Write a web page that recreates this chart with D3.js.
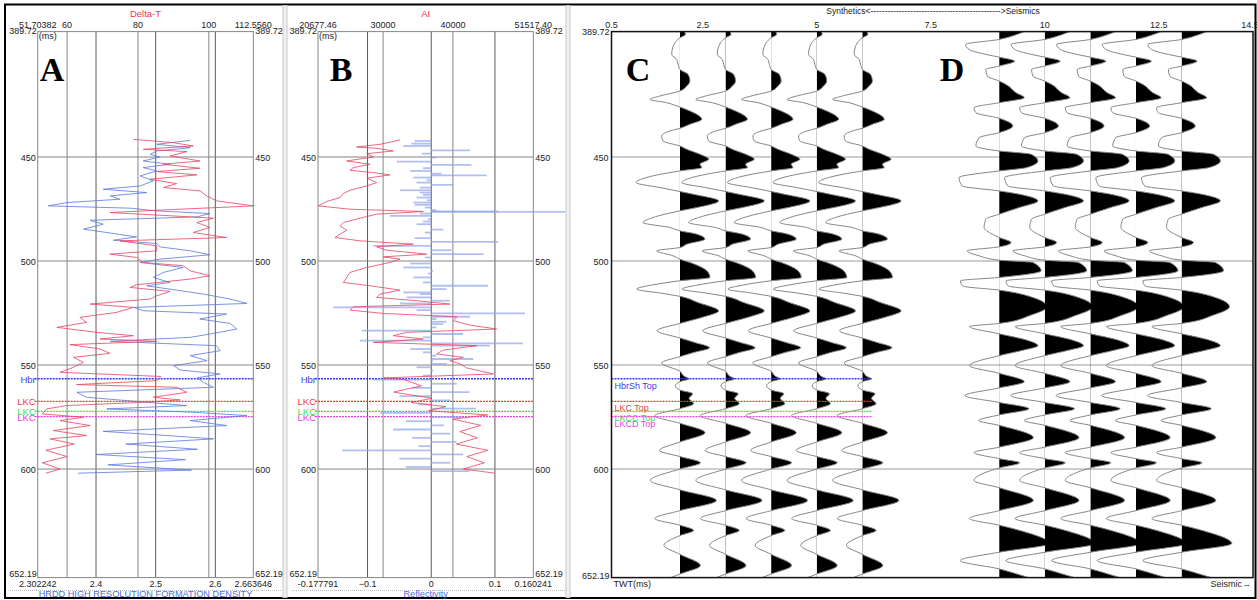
<!DOCTYPE html>
<html>
<head>
<meta charset="utf-8">
<script src="https://cdn.jsdelivr.net/npm/d3@7"></script>
<style>
  body { margin: 0; background: #fff; }
  text { font-family: "Liberation Sans", Arial, sans-serif; }
</style>
</head>
<body>
<svg id="chart" width="1257" height="600"></svg>
<script>
// ---------- data ----------
const timeRange = [389.72, 652.19];
const timeTicks = [450, 500, 550, 600];

const dtDomain = [51.70382, 112.5560];
const dtEndLabels = ["51.70382", "112.5560"];
const dtTicks = [60, 80, 100];
const rhoDomain = [2.302242, 2.663646];
const rhoEndLabels = ["2.302242", "2.663646"];
const rhoTicks = [2.4, 2.5, 2.6];

const aiDomain = [20677.46, 51517.40];
const aiEndLabels = ["20677.46", "51517.40"];
const aiTicks = [30000, 40000];
const reflDomain = [-0.177791, 0.160241];
const reflEndLabels = ["-0.177791", "0.160241"];
const reflTicks = [-0.1, 0, 0.1];

const traceDomain = [0.5, 14.5];
const traceTicks = [0.5, 2.5, 5, 7.5, 10, 12.5, 14.5];
const synthPositions = [2, 3, 4, 5, 6];
const seisPositions = [9, 10, 11, 12, 13];

const topNames = ["HbrSh Top", "LKC Top", "LKCC Top", "LKCD Top"];
const topShort = ["Hbr", "LKC", "LKC", "LKC"];
const topTimes = [556.6, 567.5, 572.3, 574.8];
const topColors = ["#3a3aee", "#f03a3a", "#3ee03e", "#ee3aee"];

// Delta-T log (us/ft) against two-way time (ms)
const dtTime = [441.5,443.1,444.7,446.3,447.4,449.5,451.9,453.5,455.4,457.0,458.6,460.7,462.8,464.7,466.3,468.7,471.1,473.5,475.6,476.7,479.4,481.5,483.9,486.3,488.7,490.3,492.7,495.1,496.7,498.3,500.7,502.3,504.7,507.1,508.7,511.4,512.7,514.6,516.7,518.3,520.7,522.3,524.7,527.1,529.5,531.9,534.3,535.9,537.5,538.6,540.2,542.3,544.4,546.3,548.7,551.1,553.5,555.5,557.5,559.4,560.7,563.1,565.5,566.8,567.9,569.5,571.1,573.5,575.1,576.7,579.1,581.5,583.9,585.5,588.0,591.0,594.0,597.0,600.0,602.0];
const dtValue = [78.7,90.0,95.6,81.5,93.8,89.1,97.5,87.2,97.5,85.3,96.6,83.4,90.9,87.2,97.5,99.4,102.2,112.6,85.3,72.1,101.3,96.6,100.3,95.6,105.0,74.9,85.3,85.3,72.1,79.6,81.5,92.8,94.7,100.3,94.7,79.6,77.8,89.1,85.3,83.4,66.5,78.7,74.0,63.6,65.5,57.1,68.4,78.7,69.3,85.3,60.8,69.3,72.1,61.8,64.6,61.8,58.0,86.5,85.3,62.7,90.9,93.8,84.3,91.9,81.5,59.9,54.2,53.0,64.6,58.0,66.5,56.1,65.5,55.2,62.0,54.0,60.0,53.0,58.0,54.0];

// Bulk density log (g/cc)
const rhoTime = [442.0,443.9,445.5,447.1,448.7,450.0,451.9,453.5,455.1,456.7,459.1,461.5,463.9,465.5,467.1,468.7,470.3,471.9,473.5,474.6,475.9,477.2,478.8,480.4,482.3,484.7,486.3,488.4,490.0,491.6,493.2,495.1,497.0,499.1,500.7,503.1,505.5,507.9,510.3,511.9,514.0,515.9,518.3,520.4,522.3,523.9,525.5,527.9,530.0,532.7,535.1,536.7,538.6,540.7,543.1,545.5,547.9,550.3,552.4,554.3,556.2,558.3,560.7,563.1,565.5,567.9,569.5,571.1,572.7,574.3,576.7,579.1,581.9,583.9,585.5,588.0,590.5,593.0,595.5,598.0,600.5,602.0];
const rhoValue = [2.558,2.502,2.558,2.502,2.491,2.507,2.479,2.524,2.479,2.502,2.474,2.496,2.474,2.412,2.485,2.424,2.440,2.351,2.320,2.457,2.502,2.591,2.569,2.390,2.412,2.379,2.418,2.468,2.429,2.502,2.507,2.558,2.591,2.507,2.474,2.546,2.513,2.496,2.524,2.485,2.535,2.580,2.625,2.653,2.463,2.479,2.619,2.574,2.625,2.636,2.591,2.558,2.424,2.602,2.608,2.558,2.586,2.530,2.541,2.608,2.569,2.580,2.597,2.368,2.384,2.485,2.552,2.418,2.563,2.653,2.558,2.619,2.412,2.519,2.597,2.450,2.570,2.400,2.550,2.420,2.560,2.370];

// Acoustic impedance
const aiTime = [441.8,443.9,445.2,445.8,447.1,448.4,450.0,451.9,453.5,455.1,456.4,457.5,458.6,460.2,462.3,463.9,466.0,467.6,469.5,471.4,473.5,475.1,476.2,477.5,479.4,481.5,483.1,485.2,487.1,488.7,490.3,491.9,493.2,494.8,496.7,498.0,499.1,500.7,503.1,505.5,507.9,510.3,511.9,514.0,515.9,517.5,519.1,520.7,522.0,523.6,525.2,526.8,528.7,530.8,532.7,534.3,535.9,537.5,539.1,540.7,542.8,544.7,546.3,547.9,549.5,551.4,554.3,556.2,557.0,560.0,563.0,566.0,568.0,570.0,572.0,574.0,576.0,579.0,582.0,585.0,588.0,591.0,594.0,597.0,600.0,602.0];
const aiValue = [32425,29559,26217,29082,31469,27649,28604,24784,28127,25739,25262,28604,31000,27649,29082,27649,25262,24307,23830,21919,20726,25262,35767,29082,26694,24307,23830,24784,23830,23113,26694,34334,29082,30514,36245,30037,32425,30992,27649,25262,24784,24307,28127,32425,29559,29082,34812,39587,25739,25262,30037,40542,40064,42452,46272,33379,31469,35767,28604,43407,38632,37677,41497,39587,41019,41974,45794,30037,33000,35500,31500,37000,34000,39000,36500,45000,40000,44000,41000,43500,40500,45000,42000,44500,41500,46000];

// Reflectivity series
const reflTime = [442.3,443.6,444.7,446.8,448.4,450.3,452.2,453.8,455.4,456.7,458.0,458.8,459.9,461.2,462.3,463.4,464.7,466.0,467.1,468.2,469.5,470.8,471.9,473.0,474.3,475.6,476.1,476.4,477.2,478.3,479.9,481.0,482.3,484.9,486.3,487.4,489.0,490.8,492.7,494.8,496.7,498.3,501.2,503.1,504.7,506.0,507.9,510.3,511.9,513.5,515.1,515.9,517.5,519.1,520.4,522.3,523.6,525.2,526.8,527.9,529.2,530.3,531.9,533.5,535.1,536.7,538.3,539.6,540.7,542.3,543.9,545.5,547.1,548.2,549.5,551.1,552.7,555.1,557,559,561,563,565,567,569,571,573,575,577,579,581,583,585,587,589,591,593,595,597,599,601];
const reflValue = [-0.026,-0.031,-0.044,0.061,-0.015,0.008,-0.054,0.063,-0.013,-0.033,0.016,0.087,-0.028,-0.007,-0.023,0.035,-0.018,-0.049,-0.018,-0.013,-0.023,-0.007,-0.028,-0.026,-0.010,0.008,0.105,0.21,-0.018,-0.065,-0.005,-0.013,-0.023,0.019,-0.010,-0.002,-0.026,0.105,-0.091,0.032,0.082,-0.010,-0.033,-0.044,0.003,-0.005,-0.028,-0.013,0.089,0.024,-0.044,-0.018,-0.039,0.029,-0.049,-0.154,-0.023,0.147,0.061,0.008,0.024,0.019,0.008,-0.109,0.050,-0.013,-0.112,0.144,0.092,-0.033,-0.013,0.008,0.066,0.003,0.024,-0.023,0.003,-0.013,-0.09,0.04,-0.03,0.06,-0.05,0.03,-0.02,0.07,-0.08,0.05,-0.04,0.02,-0.06,0.03,-0.03,0.04,-0.02,-0.14,0.05,-0.05,0.03,-0.04,0.06];

// Synthetic trace amplitude (trace-spacing units)
const synthTime = [389.72,391.1,392.7,395.1,397.5,400.7,403.1,405.5,407.9,410.3,413.5,415.9,418.3,420.7,422.3,423.9,426.0,427.9,431.9,434.3,436.2,437.5,439.9,442.3,444.7,446.3,448.7,451.1,453.5,455.1,456.7,459.9,462.3,464.7,466.6,467.9,471.1,474.3,475.9,479.1,481.5,483.9,485.5,487.1,489.5,491.9,493.5,495.1,497.5,499.1,500.7,504.7,507.9,509.5,511.5,513.5,515.5,517.0,520.0,524.0,527.0,530.0,533.5,537.0,539.0,541.7,544.0,546.0,549.0,553.0,555.5,556.6,558.0,560.0,562.0,563.8,566.0,568.6,571.0,574.3,578.0,582.5,587.0,591.1,594.0,597.0,600.0,605.5,610.0,615.1,620.0,623.8,627.0,629.5,632.0,636.7,641.0,646.4,650.5,652.19];
const synthAmp = [0.10,0.12,0,-0.11,-0.16,-0.18,-0.07,-0.04,0,0.18,0.22,0.15,0,-0.44,-0.65,-0.29,0,0.22,0.48,0.22,0,-0.22,-0.40,-0.37,0,0.15,0.44,0.63,0.44,0.48,0,-0.74,-0.96,-0.44,0,0.29,0.85,0.37,0,-0.59,-0.81,-0.22,0,0.37,0.55,0.15,0,-0.51,-0.15,0,0.22,0.59,0.66,0,-0.6,-0.95,-0.4,0,0.4,0.85,0.5,0,-0.5,0,0.3,0.65,0.3,0,-0.4,0,0.1,0.2,0,-0.1,0,0.28,0.2,0.3,0,-0.55,0,0.55,0,-0.45,0,0.45,0,-0.65,0,0.8,0,-0.55,0,0.3,0,-0.35,0,0.45,0,-0.2];

// Seismic trace amplitude (trace-spacing units)
const seisTime = [389.72,391.4,393.5,395.9,398.3,400.7,402.0,403.9,406.3,407.9,411.1,413.5,415.1,419.1,421.5,423.9,426.3,428.7,431.4,435.1,438.3,440.7,444.7,447.1,448.7,451.9,455.1,456.7,459.9,463.9,466.3,467.9,471.1,474.3,477.5,479.9,483.9,487.1,488.7,491.1,493.2,495.1,497.5,499.6,500.7,504.7,507.9,509.5,512.0,514.0,518.0,522.0,526.0,530.0,531.5,535.0,538.0,540.7,543.0,545.5,550.3,554.0,558.0,561.0,564.7,568.0,571.0,574.0,576.7,579.0,584.9,589.5,592.1,595.0,597.0,599.5,605.5,609.0,615.1,620.0,623.8,627.0,629.5,635.8,640.0,644.0,648.0,651.2,652.19];
const seisAmp = [0.55,0.35,0,-0.74,-0.66,-0.29,0,0.34,0,-0.29,-0.26,0,0.15,0.37,0.55,0,-0.55,-0.51,0,0.30,0,-0.44,-0.51,0,0.7,0.85,0.6,0,-0.88,-0.81,0,0.44,0.85,0.44,0,-0.29,-0.33,-0.15,0,0.26,0,-0.70,-0.44,0,0.74,0.92,0,-0.85,-0.8,0,0.8,1.05,0.7,0,-0.65,0,0.6,0.85,0.5,0,-0.65,0,0.55,0,-0.75,0,0.65,0,-0.45,0,0.75,0,-0.55,0,0.45,0,-0.55,0,0.75,0,-0.65,0,0.45,1.1,0,-0.85,0,0.5,0.65];

// ---------- drawing ----------
const svg = d3.select("#chart");
const gridColor = "#858585";
const redLog = "#e8445f";
const blueLog = "#5a78e0";
const FS = 9;
const y = d3.scaleLinear().domain(timeRange).range([31.6, 577.6]);

// outer frame and panel separators
svg.append("rect").attr("x", 5).attr("y", 4.5).attr("width", 1250.5).attr("height", 593.5)
  .attr("fill", "none").attr("stroke", "#000").attr("stroke-width", 2);
[[283, 287], [566, 570]].forEach(([a, b]) => {
  svg.append("rect").attr("x", a).attr("y", 5.5).attr("width", b - a).attr("height", 592)
    .attr("fill", "#f0f0f0").attr("stroke", "#c8c8c8").attr("stroke-width", 1);
});

function text(g, x, yy, s, opts = {}) {
  return g.append("text").attr("x", x).attr("y", yy).text(s)
    .attr("font-size", opts.size || FS)
    .attr("fill", opts.color || "#222")
    .attr("text-anchor", opts.anchor || "start");
}

function logPanel(cfg) {
  const g = svg.append("g");
  const [x0, x1] = cfg.range;
  const xTop = d3.scaleLinear().domain(cfg.topDomain).range(cfg.range);
  const xBot = d3.scaleLinear().domain(cfg.botDomain).range(cfg.range);

  // vertical grid from both scales
  cfg.topTicks.forEach(v => g.append("line").attr("x1", xTop(v)).attr("x2", xTop(v))
    .attr("y1", y(timeRange[0])).attr("y2", y(timeRange[1])).attr("stroke", gridColor));
  cfg.botTicks.forEach(v => g.append("line").attr("x1", xBot(v)).attr("x2", xBot(v))
    .attr("y1", y(timeRange[0])).attr("y2", y(timeRange[1])).attr("stroke", "#5a5a5a"));
  // horizontal grid
  timeTicks.forEach(t => g.append("line").attr("x1", x0).attr("x2", x1)
    .attr("y1", y(t)).attr("y2", y(t)).attr("stroke", gridColor));
  // frame
  g.append("rect").attr("x", x0).attr("y", y(timeRange[0]))
    .attr("width", x1 - x0).attr("height", y(timeRange[1]) - y(timeRange[0]))
    .attr("fill", "none").attr("stroke", gridColor);

  // time labels both sides
  timeTicks.forEach(t => {
    text(g, x0 - 2, y(t) + 4, t, { anchor: "end" });
    text(g, x1 + 2, y(t) + 4, t);
  });
  text(g, x0 - 1, y(timeRange[0]) + 2, "389.72", { anchor: "end" });
  text(g, x1 + 2, y(timeRange[0]) + 2, "389.72");
  text(g, x0 + 1, y(timeRange[0]) + 7, "(ms)");
  text(g, x0 - 1, y(timeRange[1]) - 1, "652.19", { anchor: "end" });
  text(g, x1 + 2, y(timeRange[1]) - 1, "652.19");

  // top axis (red curve)
  text(g, (x0 + x1) / 2, 17, cfg.topTitle, { anchor: "middle", color: "#ee3355", size: 9.5 });
  text(g, x0, 28, cfg.topEnd[0], { anchor: "middle" });
  text(g, x1, 28, cfg.topEnd[1], { anchor: "middle" });
  cfg.topTicks.forEach(v => text(g, xTop(v), 28, d3.format("d")(v), { anchor: "middle" }));
  // bottom axis (blue curve)
  text(g, x0, 587, cfg.botEnd[0], { anchor: "middle" });
  text(g, x1, 587, cfg.botEnd[1], { anchor: "middle" });
  cfg.botTicks.forEach(v => text(g, xBot(v), 587, cfg.botFmt(v), { anchor: "middle" }));
  g.append("line").attr("x1", cfg.sepLeft).attr("x2", cfg.sepRight).attr("y1", 590.5).attr("y2", 590.5)
    .attr("stroke", "#bbb").attr("stroke-dasharray", "1,1");
  text(g, (x0 + x1) / 2, 597, cfg.botTitle, { anchor: "middle", color: "#4a6ee0", size: 9.2 });

  // formation tops
  topTimes.forEach((t, i) => {
    g.append("line").attr("x1", x0 - 3).attr("x2", x1).attr("y1", y(t)).attr("y2", y(t))
      .attr("stroke", topColors[i]).attr("stroke-width", 1.3).attr("stroke-dasharray", "2,1");
    text(g, x0 - 2, y(t) + 4, topShort[i], { anchor: "end", color: topColors[i], size: 9.5 });
  });
  return { g, xTop, xBot };
}

// Panel A: sonic and density
const A = logPanel({
  range: [37.7, 253.3], sepLeft: 10, sepRight: 282,
  topDomain: dtDomain, topEnd: dtEndLabels, topTicks: dtTicks, topTitle: "Delta-T",
  botDomain: rhoDomain, botEnd: rhoEndLabels, botTicks: rhoTicks, botFmt: d3.format(".1f"),
  botTitle: "HRDD HIGH RESOLUTION FORMATION DENSITY"
});
const dtPts = dtTime.map((t, i) => [t, dtValue[i]]);
const rhoPts = rhoTime.map((t, i) => [t, rhoValue[i]]);
A.g.append("path").datum(rhoPts).attr("fill", "none").attr("stroke", blueLog).attr("stroke-opacity", 0.8)
  .attr("d", d3.line().x(d => A.xBot(d[1])).y(d => y(d[0])));
A.g.append("path").datum(dtPts).attr("fill", "none").attr("stroke", redLog).attr("stroke-opacity", 0.8)
  .attr("d", d3.line().x(d => A.xTop(d[1])).y(d => y(d[0])));

// Panel B: acoustic impedance and reflectivity
const B = logPanel({
  range: [318, 533.3], sepLeft: 292, sepRight: 565,
  topDomain: aiDomain, topEnd: aiEndLabels, topTicks: aiTicks, topTitle: "AI",
  botDomain: reflDomain, botEnd: reflEndLabels, botTicks: reflTicks, botFmt: v => v === 0 ? "0" : d3.format(".1f")(v),
  botTitle: "Reflectivity"
});
reflTime.forEach((t, i) => {
  B.g.append("line").attr("x1", B.xBot(0)).attr("x2", B.xBot(reflValue[i]))
    .attr("y1", y(t)).attr("y2", y(t))
    .attr("stroke", "#8ea4ea").attr("stroke-width", 1.8).attr("stroke-opacity", 0.7);
});
const aiPts = aiTime.map((t, i) => [t, aiValue[i]]);
B.g.append("path").datum(aiPts).attr("fill", "none").attr("stroke", redLog).attr("stroke-opacity", 0.8)
  .attr("d", d3.line().x(d => B.xTop(d[1])).y(d => y(d[0])));

// Panel C/D: synthetic and seismic wiggle traces
const gs = svg.append("g");
const xs = d3.scaleLinear().domain(traceDomain).range([611.5, 1250]);
const unit = xs(1) - xs(0);
const boxL = xs(traceDomain[0]), boxR = 1253;

timeTicks.forEach(t => gs.append("line").attr("x1", boxL).attr("x2", boxR)
  .attr("y1", y(t)).attr("y2", y(t)).attr("stroke", "#9a9a9a"));

const defs = svg.append("defs");
function drawTrace(pos, times, amps, idx) {
  const bx = xs(pos);
  const pts = times.map((t, i) => [t, amps[i]]);
  const id = "clip" + idx;
  defs.append("clipPath").attr("id", id).append("rect")
    .attr("x", bx).attr("y", y(timeRange[0])).attr("width", 200)
    .attr("height", y(timeRange[1]) - y(timeRange[0]));
  gs.append("path").datum(pts).attr("clip-path", `url(#${id})`).attr("fill", "#000")
    .attr("d", d3.area().y(d => y(d[0])).x0(bx).x1(d => bx + d[1] * unit).curve(d3.curveMonotoneY));
  gs.append("path").datum(pts).attr("fill", "none").attr("stroke", "#858585").attr("stroke-width", 1)
    .attr("d", d3.line().y(d => y(d[0])).x(d => bx + d[1] * unit).curve(d3.curveMonotoneY));
}
synthPositions.forEach((p, i) => drawTrace(p, synthTime, synthAmp, "s" + i));
seisPositions.forEach((p, i) => drawTrace(p, seisTime, seisAmp, "k" + i));

// formation tops on the synthetic side
topTimes.forEach((t, i) => {
  gs.append("line").attr("x1", boxL).attr("x2", xs(6.2)).attr("y1", y(t)).attr("y2", y(t))
    .attr("stroke", topColors[i]).attr("stroke-width", 1.3).attr("stroke-dasharray", "2,1");
  text(gs, boxL + 3, y(t) + 10, topNames[i], { color: topColors[i] });
});

gs.append("rect").attr("x", boxL).attr("y", y(timeRange[0]))
  .attr("width", boxR - boxL).attr("height", y(timeRange[1]) - y(timeRange[0]))
  .attr("fill", "none").attr("stroke", "#111").attr("stroke-width", 1.5);

timeTicks.forEach(t => text(gs, boxL - 3, y(t) + 4, t, { anchor: "end" }));
text(gs, boxL - 2, y(timeRange[0]) + 3, "389.72", { anchor: "end" });
text(gs, boxL - 2, y(timeRange[1]) + 1, "652.19", { anchor: "end" });
traceTicks.forEach(v => text(gs, xs(v), 28, String(v), { anchor: "middle" }));
text(gs, 933, 14, "Synthetics<---------------------------------------------->Seismics", { anchor: "middle", size: 8.5 });
text(gs, boxL + 2, 587, "TWT(ms)");
text(gs, boxR - 2, 587, "Seismic\u2192", { anchor: "end" });

// panel letters
[["A", 52], ["B", 341], ["C", 638], ["D", 952]].forEach(([s, x]) => {
  svg.append("text").attr("x", x).attr("y", 81).text(s)
    .attr("text-anchor", "middle").attr("font-size", 34).attr("font-weight", "bold")
    .style("font-family", "'Liberation Serif', 'Times New Roman', serif").attr("fill", "#000");
});
</script>
</body>
</html>
